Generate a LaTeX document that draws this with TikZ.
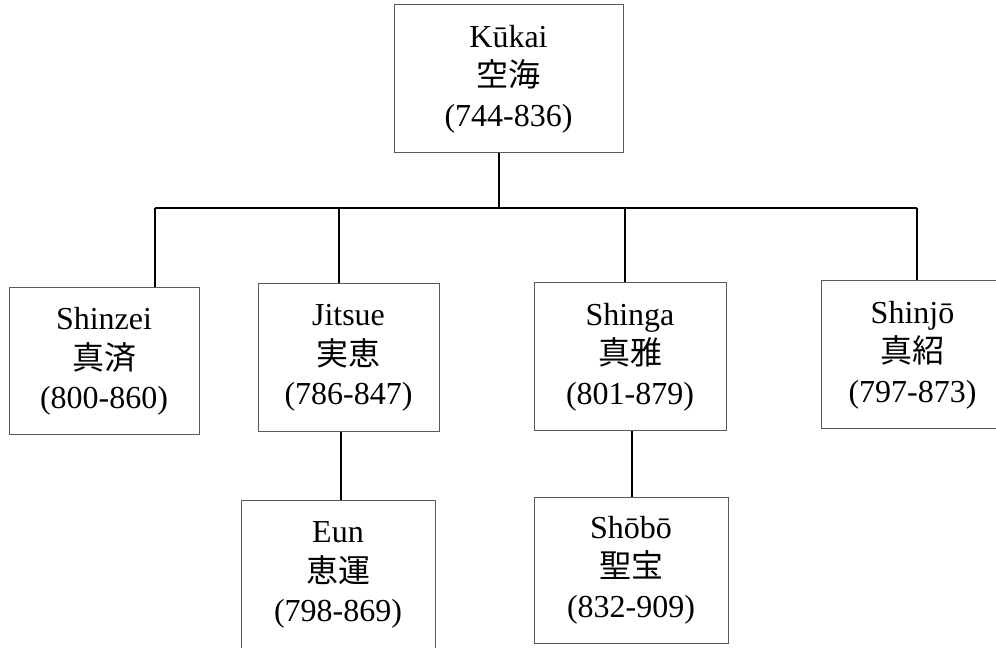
\documentclass[tikz,border=0pt]{standalone}
\usepackage{fontspec}
\setmainfont{Liberation Serif}
\newfontfamily\cjk{Noto Sans CJK JP}
\begin{document}
\begin{tikzpicture}[x=0.75pt,y=-0.75pt,
  person/.style={draw=black!65, line width=0.75pt, inner sep=0pt, align=center,
    font=\fontsize{24}{29.5}\selectfont},
  link/.style={draw=black, line width=1.1pt}]
\useasboundingbox (0,0) rectangle (996,648);
\node[person, minimum width=171.75pt, minimum height=111pt] (kukai) at (508.5,79) {Kūkai\\{\cjk 空海}\\(744-836)};
\node[person, minimum width=142.5pt, minimum height=110.25pt] (shinzei) at (104,361.5) {Shinzei\\{\cjk 真済}\\(800-860)};
\node[person, minimum width=135.75pt, minimum height=111pt] (jitsue) at (348.5,358) {Jitsue\\{\cjk 実恵}\\(786-847)};
\node[person, minimum width=144pt, minimum height=111pt] (shinga) at (630,357) {Shinga\\{\cjk 真雅}\\(801-879)};
\node[person, minimum width=137.25pt, minimum height=111pt] (shinjo) at (912.5,355) {Shinjō\\{\cjk 真紹}\\(797-873)};
\node[person, minimum width=145.5pt, minimum height=112.5pt] (eun) at (338,575) {Eun\\{\cjk 恵運}\\(798-869)};
\node[person, minimum width=145.5pt, minimum height=109.5pt] (shobo) at (631,570) {Shōbō\\{\cjk 聖宝}\\(832-909)};
\coordinate (b0) at (155,208);
\coordinate (b1) at (339,208);
\coordinate (bk) at (499,208);
\coordinate (b2) at (625,208);
\coordinate (b3) at (917,208);
\coordinate (e) at (341,470);
\coordinate (s) at (632,470);
\draw[link] (kukai.south -| bk) -- (bk);
\draw[link] (b0) -- (b3);
\draw[link] (b0) -- (shinzei.north -| b0);
\draw[link] (b1) -- (jitsue.north -| b1);
\draw[link] (b2) -- (shinga.north -| b2);
\draw[link] (b3) -- (shinjo.north -| b3);
\draw[link] (jitsue.south -| e) -- (eun.north -| e);
\draw[link] (shinga.south -| s) -- (shobo.north -| s);
\end{tikzpicture}
\end{document}
